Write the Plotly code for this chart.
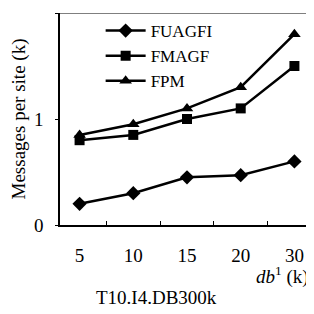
import plotly.graph_objects as go

categories = ["5", "10", "15", "20", "30"]
fuagfi = [0.2, 0.3, 0.45, 0.47, 0.6]
fmagf = [0.8, 0.85, 1.0, 1.1, 1.5]
fpm = [0.85, 0.95, 1.1, 1.3, 1.8]
y_ticks = [0, 1, 2]

FONT = "Liberation Serif"

fig = go.Figure()
series = [("FUAGFI", fuagfi, "diamond", 11), ("FMAGF", fmagf, "square", 10), ("FPM", fpm, "triangle-up", 11)]
for name, vals, sym, sz in series:
    fig.add_trace(go.Scatter(
        x=categories, y=vals, name=name, mode="lines+markers",
        line=dict(color="black", width=2.5),
        marker=dict(symbol=sym, size=sz, color="black"),
    ))

# page body has an 8px default margin, so the figure is sized to fit the 314px window
fig.update_layout(
    width=306, height=306,
    margin=dict(l=52, r=0, t=5, b=89, autoexpand=False),
    paper_bgcolor="white", plot_bgcolor="white",
    font=dict(family=FONT, size=19, color="black"),
    showlegend=True,
    legend=dict(x=0.16, y=1.0, xanchor="left", yanchor="top",
                bgcolor="rgba(0,0,0,0)", font=dict(family=FONT, size=17),
                tracegroupgap=0, itemwidth=40),
    xaxis=dict(type="category", showgrid=False, showline=True, linecolor="black", linewidth=1.5,
               ticks="inside", tickson="boundaries", ticklen=4, tickcolor="black",
               tickfont=dict(family=FONT, size=19), ticklabelstandoff=12, automargin=False),
    yaxis=dict(range=[0, 2], tickvals=y_ticks, showgrid=False, showline=True,
               linecolor="black", linewidth=1.5, ticks="outside", ticklen=3, tickcolor="black",
               tickfont=dict(family=FONT, size=19), ticklabelstandoff=8, zeroline=False,
               automargin=False,
               title=dict(text="Messages per site (k)", font=dict(family=FONT, size=19), standoff=8)),
    shapes=[dict(type="line", xref="paper", yref="y", x0=0, x1=1, y0=2, y1=2,
                 line=dict(color="#555555", width=1.5))],
    annotations=[
        dict(text="<i>db</i><sup>1</sup> (k)", xref="paper", yref="paper", x=0.99, y=-0.24,
             xanchor="right", yanchor="middle", showarrow=False, font=dict(family=FONT, size=19)),
        dict(text="T10.I4.DB300k", xref="paper", yref="paper", x=0.38, y=-0.34,
             xanchor="center", yanchor="middle", showarrow=False, font=dict(family=FONT, size=19)),
    ],
)

fig.write_html("out.html")
